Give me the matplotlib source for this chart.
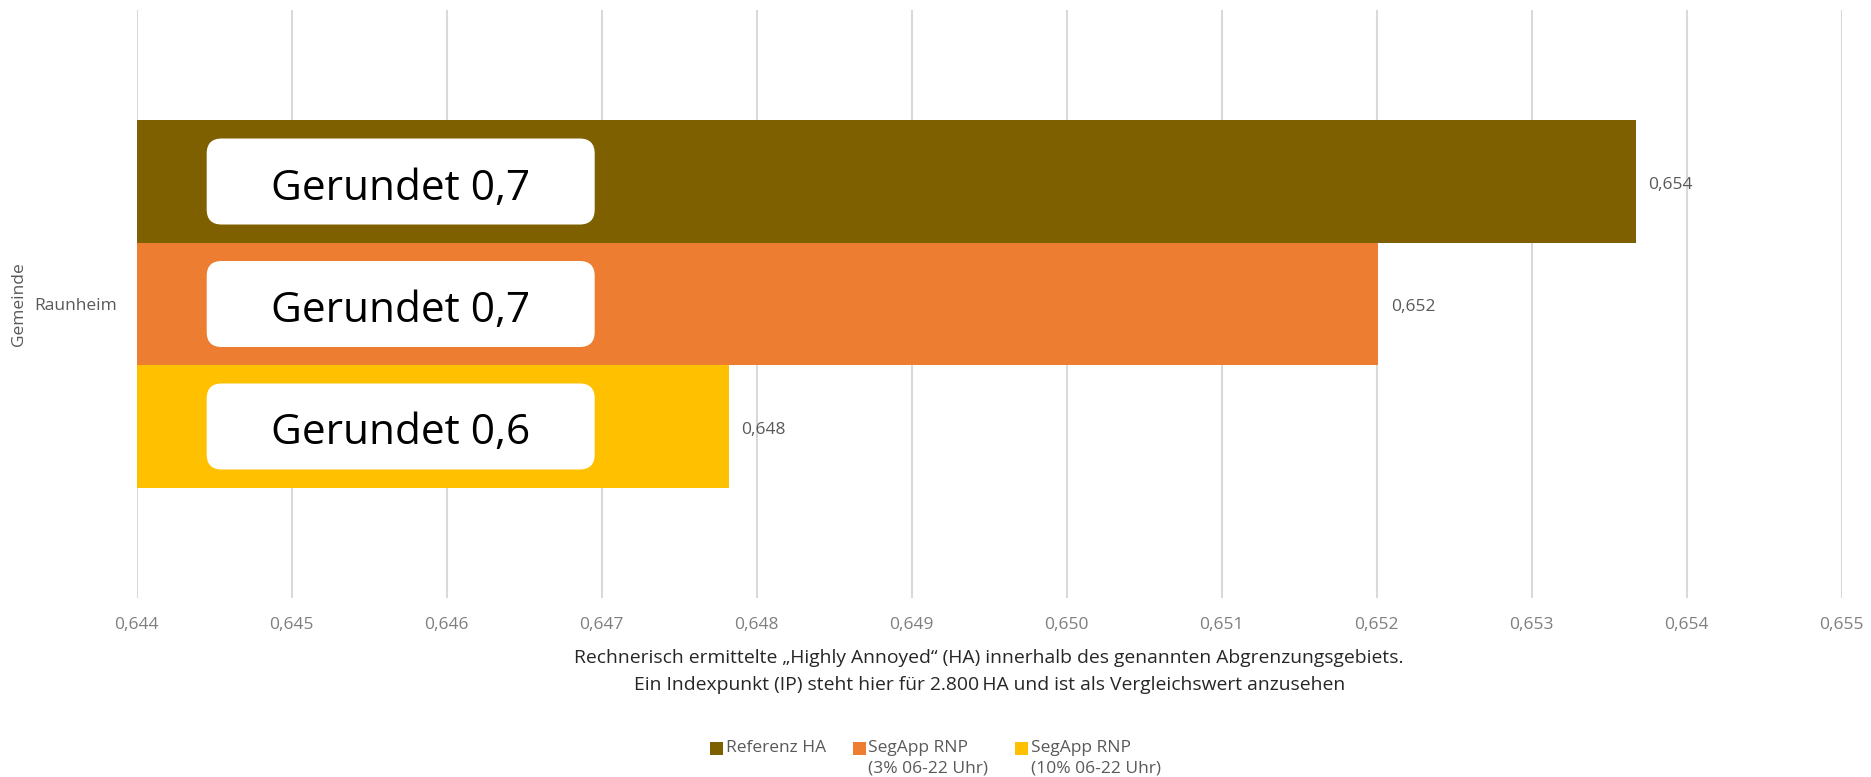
import matplotlib
matplotlib.use("Agg")
import matplotlib.pyplot as plt
from matplotlib.patches import FancyBboxPatch, Rectangle
from matplotlib.legend_handler import HandlerPatch
from matplotlib.ticker import FuncFormatter

plt.rcParams['font.family'] = ['Open Sans', 'DejaVu Sans']

# ---- data -------------------------------------------------------------
category = "Raunheim"
series_names = ["Referenz HA", "SegApp RNP\n(3% 06-22 Uhr)", "SegApp RNP\n(10% 06-22 Uhr)"]
series_values = [0.65367, 0.65201, 0.64782]
series_colors = ["#7F6000", "#ED7D31", "#FFC000"]
rounded_labels = ["Gerundet 0,7", "Gerundet 0,7", "Gerundet 0,6"]
x_ticks = [0.644, 0.645, 0.646, 0.647, 0.648, 0.649, 0.650, 0.651, 0.652, 0.653, 0.654, 0.655]
x_title = ("Rechnerisch ermittelte \u201eHighly Annoyed\u201c (HA) innerhalb des genannten Abgrenzungsgebiets.\n"
           "Ein Indexpunkt (IP) steht hier f\u00fcr 2.800\u2009HA und ist als Vergleichswert anzusehen")
y_title = "Gemeinde"

# ---- figure -----------------------------------------------------------
W, H, DPI = 1871, 777, 100
fig = plt.figure(figsize=(W / DPI, H / DPI), dpi=DPI)
ax_rect = [0.07306, 0.23037, 0.91128, 0.75676]
ax = fig.add_axes(ax_rect)

x_min, x_max = x_ticks[0], x_ticks[-1]
ax.set_xlim(x_min, x_max)
ax.set_ylim(-0.5, 0.5)

bar_h = 0.2083
n = len(series_values)
y_pos = [bar_h * ((n - 1) / 2 - i) for i in range(n)]

# pixel -> data conversion for shapes laid out in screen units
ax_w_px = W * ax_rect[2]
ax_h_px = H * ax_rect[3]
x_per_px = (x_max - x_min) / ax_w_px
y_per_px = 1.0 / ax_h_px

ax.set_axisbelow(True)
ax.grid(axis='x', color='#d9d9d9', linewidth=1.5)
ax.grid(axis='y', visible=False)

fmt = lambda v: f"{v:.3f}".replace('.', ',')

bars = []
for y, v, c, name in zip(y_pos, series_values, series_colors, series_names):
    b = ax.barh(y, v - x_min, left=x_min, height=bar_h, color=c, label=name)
    bars.append(b)
    ax.annotate(fmt(v), xy=(v, y), xytext=(9, -2.5), textcoords='offset points',
                ha='left', va='center', fontsize=12.5, color='#595959')

# white rounded call-outs on each bar
box_x0 = x_min + 70 * x_per_px
box_w = 388 * x_per_px
box_h = 86 * y_per_px
radius = 15 * x_per_px
for y, txt in zip(y_pos, rounded_labels):
    patch = FancyBboxPatch((box_x0, y - box_h / 2), box_w, box_h,
                           boxstyle=f"round,pad=0,rounding_size={radius}",
                           mutation_aspect=y_per_px / x_per_px,
                           facecolor='white', edgecolor='none', zorder=3)
    ax.add_patch(patch)
    ax.text(box_x0 + box_w / 2, y - 18 * y_per_px, txt, ha='center', va='baseline',
            fontsize=30.5, color='black', zorder=4)

ax.set_xticks(x_ticks)
ax.xaxis.set_major_formatter(FuncFormatter(lambda v, p: fmt(v)))
ax.tick_params(axis='x', length=0, pad=14, labelsize=12.5, labelcolor='#7f7f7f')
ax.set_yticks([0])
ax.set_yticklabels([category])
ax.tick_params(axis='y', length=0, pad=14, labelsize=12.5, labelcolor='#595959')

for s in ax.spines.values():
    s.set_visible(False)

ax.set_xlabel(x_title, fontsize=13.9, color='#262626', linespacing=1.58, va='center')
ax.xaxis.set_label_coords(0.5, -(671.5 - 598) / ax_h_px)
ax.set_ylabel(y_title, fontsize=12.5, color='#595959', va='center')
ax.yaxis.set_label_coords((19 - 136.7) / ax_w_px, 0.5)


class TopSquare(HandlerPatch):
    def create_artists(self, legend, orig_handle, xdescent, ydescent,
                       width, height, fontsize, trans):
        p = Rectangle((-xdescent, -ydescent + 0.55 * fontsize), width, height,
                      facecolor=orig_handle.get_facecolor(), edgecolor='none',
                      transform=trans)
        return [p]


handles = [b.patches[0] for b in bars]
labels = [series_names[0] + "\n "] + series_names[1:]
leg = fig.legend(handles, labels, loc='center', bbox_to_anchor=(0.5, 1 - 758 / H),
                 ncol=3, frameon=False, fontsize=12.5, handlelength=0.75,
                 handleheight=0.75, handletextpad=0.15, columnspacing=1.55,
                 borderpad=0, handler_map={Rectangle: TopSquare()})
for t in leg.get_texts():
    t.set_color('#595959')
    t.set_linespacing(1.35)

fig.savefig("out.png", dpi=DPI)
